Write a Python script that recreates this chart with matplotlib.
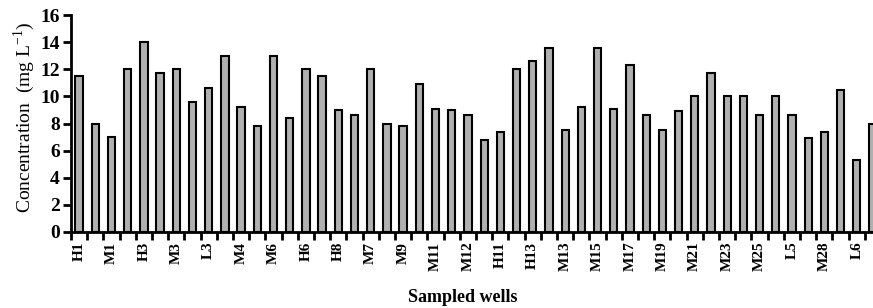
import matplotlib
matplotlib.use("Agg")
import matplotlib.pyplot as plt
import numpy as np

# Data
tick_labels = ["H1", "", "M1", "", "H3", "", "M3", "", "L3", "", "M4", "", "M6", "",
               "H6", "", "H8", "", "M7", "", "M9", "", "M11", "", "M12", "", "H11", "",
               "H13", "", "M13", "", "M15", "", "M17", "", "M19", "", "M21", "", "M23", "",
               "M25", "", "L5", "", "M28", "", "L6", ""]
values = [11.5, 8.0, 7.0, 12.0, 14.0, 11.7, 12.0, 9.6, 10.6, 13.0,
          9.2, 7.8, 13.0, 8.4, 12.0, 11.5, 9.0, 8.6, 12.0, 8.0,
          7.8, 10.9, 9.1, 9.0, 8.6, 6.8, 7.4, 12.0, 12.6, 13.6,
          7.5, 9.2, 13.6, 9.1, 12.3, 8.6, 7.5, 8.9, 10.0, 11.7,
          10.0, 10.0, 8.6, 10.0, 8.6, 6.9, 7.4, 10.5, 5.3, 8.0]
y_ticks = [0, 2, 4, 6, 8, 10, 12, 14, 16]

plt.rcParams['font.family'] = ['Liberation Serif', 'DejaVu Serif']
plt.rcParams['mathtext.fontset'] = 'custom'
plt.rcParams['mathtext.rm'] = 'Liberation Serif'
plt.rcParams['mathtext.bf'] = 'Liberation Serif:bold'

fig = plt.figure(figsize=(8.73, 3.08), dpi=100)
ax = fig.add_axes([71/873, (308-232)/308, 1 - 71/873, (232-15)/308])

x = np.arange(len(values))
ax.bar(x, values, width=0.45, color='#b0b0b0', edgecolor='black', linewidth=1.5)

ax.set_xlim(-0.5, 49.0)
ax.set_ylim(0, 16)
ax.set_yticks(y_ticks)
ax.set_yticklabels([str(v) for v in y_ticks], fontsize=14, fontweight='bold')

# boundary ticks (marks) and labels at bar centers
ax.set_xticks(np.arange(-0.5, 49.0, 1.0))
ax.set_xticklabels([])
ax.set_xticks(x, minor=True)
ax.set_xticklabels(tick_labels, minor=True, rotation=90, fontsize=11, fontweight='bold')
ax.tick_params(axis='x', which='major', length=6, width=2, direction='out')
ax.tick_params(axis='x', which='minor', length=0, pad=7)
ax.tick_params(axis='y', length=6, width=2, direction='out', pad=2)

for s in ['top', 'right']:
    ax.spines[s].set_visible(False)
for s in ['left', 'bottom']:
    ax.spines[s].set_linewidth(2)

ax.set_ylabel(r'Concentration  (mg L$^{-1}$)', fontsize=14)
ax.yaxis.set_label_coords(-0.043, 0.53)
ax.set_xlabel('Sampled wells', fontsize=13, fontweight='bold')
ax.xaxis.set_label_coords(0.489, -0.262)

fig.savefig('out.png', dpi=100)
